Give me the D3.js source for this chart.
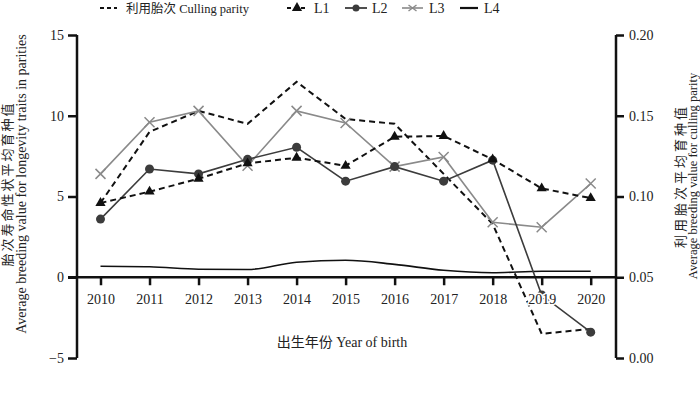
<!DOCTYPE html>
<html>
<head>
<meta charset="utf-8">
<script src="https://cdn.jsdelivr.net/npm/d3@7"></script>
<style>
    body { margin: 0; background: #fff; }
    svg { display: block; }
    text { font-family: "Liberation Serif", "Noto Sans CJK SC", serif; fill: #222; }
</style>
</head>
<body>
<div id="chart"></div>
<script>
const years = [2010, 2011, 2012, 2013, 2014, 2015, 2016, 2017, 2018, 2019, 2020];
const cullingParity = [0.096, 0.140, 0.153, 0.145, 0.171, 0.148, 0.145, 0.114, 0.083, 0.015, 0.018];
const L1 = [4.6, 5.3, 6.1, 7.05, 7.4, 6.9, 8.7, 8.75, 7.3, 5.5, 4.9];
const L2 = [3.6, 6.7, 6.4, 7.3, 8.05, 5.95, 6.85, 5.95, 7.25, -1.1, -3.4];
const L3 = [6.4, 9.6, 10.3, 6.9, 10.3, 9.55, 6.85, 7.45, 3.4, 3.1, 5.8];
const L4 = [0.68, 0.65, 0.5, 0.48, 0.93, 1.05, 0.8, 0.43, 0.28, 0.37, 0.37];
const leftTicks = [-5, 0, 5, 10, 15];
const rightTicks = [0, 0.05, 0.10, 0.15, 0.20];

const width = 700;
const height = 393;

const svg = d3.select('#chart').append('svg')
    .attr('width', width)
    .attr('height', height);

const x = d3.scaleLinear().domain([2010, 2020]).range([100.5, 590.7]);
const yL = d3.scaleLinear().domain([-5, 15]).range([358, 35]);
const yR = d3.scaleLinear().domain([0, 0.2]).range([358, 35]);

const leftX = 77;
const rightX = 616;

// lines
const lineL = d3.line().x((d, i) => x(years[i])).y(d => yL(d));
const lineR = d3.line().x((d, i) => x(years[i])).y(d => yR(d));
const smoothL = d3.line().x((d, i) => x(years[i])).y(d => yL(d)).curve(d3.curveMonotoneX);

const plot = svg.append('g');

plot.append('path')
    .datum(cullingParity)
    .attr('d', lineR)
    .attr('fill', 'none')
    .attr('stroke', '#111')
    .attr('stroke-width', 2)
    .attr('stroke-dasharray', '6,4');

plot.append('path')
    .datum(L4)
    .attr('d', smoothL)
    .attr('fill', 'none')
    .attr('stroke', '#111')
    .attr('stroke-width', 1.6);

plot.append('path')
    .datum(L3)
    .attr('d', lineL)
    .attr('fill', 'none')
    .attr('stroke', '#8a8a8a')
    .attr('stroke-width', 1.6);

plot.append('g').selectAll('path')
    .data(L3)
    .enter().append('path')
    .attr('transform', (d, i) => `translate(${x(years[i])},${yL(d)})`)
    .attr('d', 'M-5,-5L5,5M-5,5L5,-5')
    .attr('stroke', '#8a8a8a')
    .attr('stroke-width', 1.5);

plot.append('path')
    .datum(L2)
    .attr('d', lineL)
    .attr('fill', 'none')
    .attr('stroke', '#3c3c3c')
    .attr('stroke-width', 1.6);

plot.append('g').selectAll('circle')
    .data(L2)
    .enter().append('circle')
    .attr('cx', (d, i) => x(years[i]))
    .attr('cy', d => yL(d))
    .attr('r', 4.5)
    .attr('fill', '#3c3c3c');

plot.append('path')
    .datum(L1)
    .attr('d', lineL)
    .attr('fill', 'none')
    .attr('stroke', '#111')
    .attr('stroke-width', 2)
    .attr('stroke-dasharray', '6,4');

const tri = d3.symbol().type(d3.symbolTriangle).size(45);
plot.append('g').selectAll('path')
    .data(L1)
    .enter().append('path')
    .attr('transform', (d, i) => `translate(${x(years[i])},${yL(d)})`)
    .attr('d', tri)
    .attr('fill', '#111');

// axes
const axisLeft = d3.axisLeft(yL).tickValues(leftTicks).tickSize(9).tickPadding(4);
const axisRight = d3.axisRight(yR).tickValues(rightTicks).tickFormat(d3.format('.2f')).tickSize(8).tickPadding(5);
const axisBottom = d3.axisBottom(x).tickValues(years).tickFormat(d3.format('d')).tickSize(8).tickPadding(9);

const gx = svg.append('g')
    .attr('transform', `translate(0,${yL(0)})`)
    .call(axisBottom);
gx.select('.domain').attr('d', `M${leftX - 9},0H${rightX}`);

const gl = svg.append('g')
    .attr('transform', `translate(${leftX},0)`)
    .call(axisLeft);
gl.select('.domain').attr('d', `M0,${yL(15)}V${yL(-5)}`);

const gr = svg.append('g')
    .attr('transform', `translate(${rightX},0)`)
    .call(axisRight);
gr.select('.domain').attr('d', `M0,${yR(0.2)}V${yR(0)}`);

svg.selectAll('.domain').attr('stroke', '#111').attr('stroke-width', 2.5);
svg.selectAll('.tick line').attr('stroke', '#111').attr('stroke-width', 2.5);
svg.selectAll('.tick text')
    .attr('font-family', '"Liberation Serif", serif')
    .attr('font-size', 14)
    .attr('fill', '#222');
gx.selectAll('.tick text')
    .attr('stroke', '#fff')
    .attr('stroke-width', 3)
    .attr('paint-order', 'stroke');

// axis titles
svg.append('text')
    .attr('x', 342)
    .attr('y', 347)
    .attr('text-anchor', 'middle')
    .attr('font-size', 14)
    .text('出生年份 Year of birth');

const leftTitle = svg.append('text')
    .attr('transform', 'translate(12,184) rotate(-90)')
    .attr('text-anchor', 'middle');
leftTitle.append('tspan').attr('x', 0).attr('dy', 0)
    .attr('font-size', 13).attr('letter-spacing', 2).text('胎次寿命性状平均育种值');
leftTitle.append('tspan').attr('x', 0).attr('dy', 13.5)
    .attr('font-size', 14).attr('letter-spacing', 0).text('Average breeding value for longevity traits in parities');

const rightTitle = svg.append('text')
    .attr('transform', 'translate(685,176) rotate(-90)')
    .attr('text-anchor', 'middle');
rightTitle.append('tspan').attr('x', 0).attr('dy', 0)
    .attr('font-size', 13).attr('letter-spacing', 3).text('利用胎次平均育种值');
rightTitle.append('tspan').attr('x', 0).attr('dy', 12)
    .attr('font-size', 12.5).attr('letter-spacing', 0).text('Average breeding value for culling parity');

// legend
const legendY = 8;
const legend = svg.append('g');

legend.append('line')
    .attr('x1', 100).attr('x2', 117)
    .attr('y1', legendY).attr('y2', legendY)
    .attr('stroke', '#111').attr('stroke-width', 2).attr('stroke-dasharray', '4,3');
legend.append('text')
    .attr('x', 126).attr('y', legendY + 4.5)
    .attr('font-size', 12.5)
    .text('利用胎次 Culling parity');

legend.append('line')
    .attr('x1', 287).attr('x2', 307)
    .attr('y1', legendY).attr('y2', legendY)
    .attr('stroke', '#111').attr('stroke-width', 2).attr('stroke-dasharray', '4,3');
legend.append('path')
    .attr('transform', `translate(297,${legendY})`)
    .attr('d', tri)
    .attr('fill', '#111');
legend.append('text')
    .attr('x', 314).attr('y', legendY + 4.5)
    .attr('font-size', 14)
    .text('L1');

legend.append('line')
    .attr('x1', 345).attr('x2', 367)
    .attr('y1', legendY).attr('y2', legendY)
    .attr('stroke', '#3c3c3c').attr('stroke-width', 1.8);
legend.append('circle')
    .attr('cx', 356).attr('cy', legendY).attr('r', 3.5)
    .attr('fill', '#3c3c3c');
legend.append('text')
    .attr('x', 372).attr('y', legendY + 4.5)
    .attr('font-size', 14)
    .text('L2');

legend.append('line')
    .attr('x1', 402).attr('x2', 423)
    .attr('y1', legendY).attr('y2', legendY)
    .attr('stroke', '#8a8a8a').attr('stroke-width', 1.6);
legend.append('path')
    .attr('transform', `translate(412.5,${legendY})`)
    .attr('d', 'M-4,-3L4,3M-4,3L4,-3')
    .attr('stroke', '#8a8a8a').attr('stroke-width', 1.4);
legend.append('text')
    .attr('x', 429).attr('y', legendY + 4.5)
    .attr('font-size', 14)
    .text('L3');

legend.append('line')
    .attr('x1', 460).attr('x2', 478)
    .attr('y1', legendY).attr('y2', legendY)
    .attr('stroke', '#111').attr('stroke-width', 2.2);
legend.append('text')
    .attr('x', 484).attr('y', legendY + 4.5)
    .attr('font-size', 14)
    .text('L4');
</script>
</body>
</html>
